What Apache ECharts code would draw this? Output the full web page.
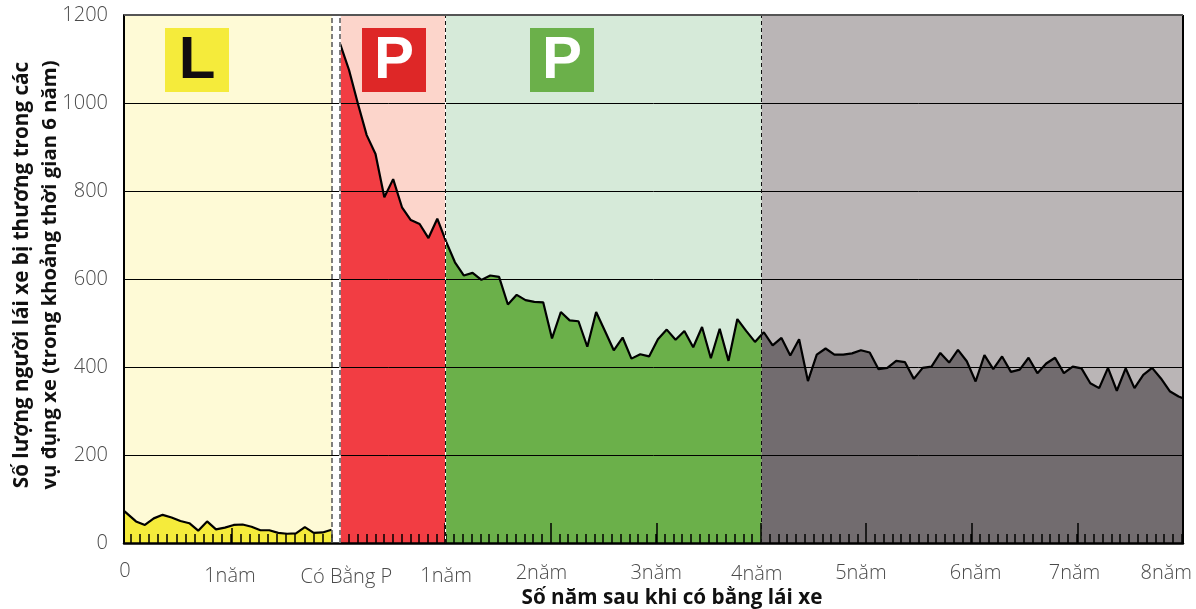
<!DOCTYPE html>
<html>
<head>
<meta charset="utf-8">
<style>
  html, body { margin: 0; padding: 0; background: #fff; }
  #chart { width: 1196px; height: 609px; }
</style>
<script src="https://cdn.jsdelivr.net/npm/echarts@6/dist/echarts.min.js"></script>
</head>
<body>
<div id="chart"></div>
<script>
// values, one per month
const learnerValues = [73, 49, 41, 56, 64, 58, 50, 45, 28, 49, 31, 35, 41, 42, 37, 29, 29, 23, 21, 22, 36, 23, 24, 30];
const redValues = [1134, 1075, 999, 927, 884, 786, 827, 763, 734, 725, 693, 737, 685];
const greenValues = [685, 638, 608, 614, 598, 608, 605, 542, 564, 552, 548, 547, 465, 525, 506, 504, 446, 525, 482, 438, 467, 419, 429, 424, 463, 485, 462, 482, 445, 491, 420, 487, 414, 509, 482, 457];
const greyValues = [479, 449, 466, 426, 463, 368, 428, 442, 428, 428, 431, 438, 433, 395, 398, 414, 411, 373, 398, 401, 432, 410, 439, 413, 367, 427, 395, 424, 389, 394, 421, 386, 408, 421, 386, 401, 397, 363, 352, 398, 346, 397, 352, 382, 398, 374, 345, 333];
const greenEndValue = 474; // where the line crosses the green/grey border
const greyEndValue = 329;  // where the line leaves the plot

// x axis is in months
const xMax = 120;
const learnerEnd = 23.55;
const redStart = 24.5;
const greenStart = 36.45;
const greyStart = 72.26;

const xLabelMonths = [0.1, 12, 25.2, 36.5, 47.3, 60.3, 71.7, 83.5, 96.5, 107.7, 118.1];
const xLabels = ['0', '1năm', 'Có Bằng P', '1năm', '2năm', '3năm', '4năm', '5năm', '6năm', '7năm', '8năm'];
const xLabelRows = ['z', 'c', 'd', 'c', 'a', 'a', 'b', 'a', 'a', 'a', 'a'];

// first learner month is a bit wider than the rest
const learnerData = learnerValues.map((v, i) => [i === 0 ? 0 : 1.36 + (i - 1) * 1.007, v]);
const redData = redValues.map((v, i) => [redStart + i, v]);
const greenData = greenValues.map((v, i) => [redStart + 12 + i, v]);
greenData.push([greyStart, greenEndValue]);
const greyData = greyValues.map((v, i) => [redStart + 48 + i, v]);
greyData.unshift([greyStart, greenEndValue]);
greyData.push([xMax, greyEndValue]);

// ticks: small ones every month, tall ones every year after the P plate
const smallTicks = [];
for (let i = 0; 0.76 + i * 1.035 < learnerEnd; i++) smallTicks.push(0.76 + i * 1.035);
for (let m = redStart + 1; m <= xMax; m += 0.993) smallTicks.push(m);
const tallTicks = [36.4, 48.4, 60.4, 72.2, 84.1, 96.1, 108.1];
const midTicks = [12.25];

const chart = echarts.init(document.getElementById('chart'));

const labelFont = { fontFamily: 'Open Sans', fontWeight: 300, fontSize: 20, color: '#4a4a4a' };
const titleFont = { fontFamily: 'Open Sans', fontWeight: 'bold', color: '#111' };

const tickAxis = (values, length, width) => ({
  type: 'value', min: 0, max: xMax, position: 'bottom', z: 4,
  axisLine: { show: false },
  axisLabel: { show: false },
  splitLine: { show: false },
  axisTick: { show: true, inside: true, length: length, customValues: values, lineStyle: { color: '#000', width: width } }
});

const area = (data, color) => ({
  type: 'line', data: data, symbol: 'none', z: 2,
  lineStyle: { color: '#000', width: 2.2 },
  areaStyle: { color: color, opacity: 1 }
});

const vLine = (x, color, width, type) => ({
  xAxis: x, lineStyle: { color: color, width: width, type: type }
});

const badge = (x, color, letter, letterColor) => ([
  { type: 'rect', z: 10, shape: { x: x, y: 28, width: 64, height: 64 }, style: { fill: color } },
  { type: 'text', z: 11, x: x + 32, y: 61, style: { text: letter, fill: letterColor, font: 'bold 60px "Liberation Sans"', textAlign: 'center', textVerticalAlign: 'middle' } }
]);

chart.setOption({
  animation: false,
  grid: { left: 124, right: 13, top: 15, bottom: 66, containLabel: false, outerBoundsMode: 'none' },
  graphic: [
    ...badge(165, '#F5EB3B', 'L', '#120C10'),
    ...badge(362, '#DE2727', 'P', '#fff'),
    ...badge(530, '#6BB04A', 'P', '#fff')
  ],
  xAxis: [
    {
      type: 'value', min: 0, max: xMax, position: 'bottom', z: 4,
      name: 'Số năm sau khi có bằng lái xe',
      nameLocation: 'middle',
      nameGap: 45,
      nameMoveOverlap: false,
      nameTextStyle: { ...titleFont, fontSize: 20.7, padding: [0, 0, 0, 37] },
      axisLine: { show: true, lineStyle: { color: '#000', width: 2.5 } },
      splitLine: { show: false },
      axisTick: { show: true, inside: true, length: 9, customValues: smallTicks, lineStyle: { color: '#000', width: 1.5 } },
      axisLabel: {
        show: true, margin: 18, customValues: xLabelMonths, hideOverlap: false, showMinLabel: true, showMaxLabel: true,
        formatter: v => {
          const i = xLabelMonths.indexOf(v);
          return '{' + xLabelRows[i] + '|' + xLabels[i] + '}';
        },
        rich: {
          z: { ...labelFont, padding: [0, 0, 0, 0] },
          a: { ...labelFont, padding: [2, 0, 0, 0] },
          b: { ...labelFont, padding: [3, 0, 0, 0] },
          c: { ...labelFont, padding: [5, 0, 0, 0] },
          d: { ...labelFont, padding: [6, 0, 0, 0] }
        }
      }
    },
    tickAxis(tallTicks, 20, 1.5),
    tickAxis(midTicks, 15, 1.5)
  ],
  yAxis: {
    type: 'value', min: 0, max: 1200, interval: 200, z: 3,
    name: '{a|Số lượng người lái xe bị thương trong các}\n{b|vụ đụng xe (trong khoảng thời gian 6 năm)}',
    nameLocation: 'middle',
    nameRotate: 90,
    nameGap: 60,
    nameMoveOverlap: false,
    nameTextStyle: {
      padding: [0, 0, 0, 8],
      rich: {
        a: { ...titleFont, fontSize: 20.7, lineHeight: 28 },
        b: { ...titleFont, fontSize: 20.3, lineHeight: 28 }
      }
    },
    axisLine: { show: true, lineStyle: { color: '#000', width: 2 } },
    axisTick: { show: false },
    axisLabel: { ...labelFont, margin: 16, formatter: v => String(v) },
    splitLine: { show: true, lineStyle: { color: '#000', width: 1 } }
  },
  series: [
    {
      // background bands
      type: 'line', data: [], z: 0, silent: true,
      markArea: {
        silent: true,
        data: [
          [{ xAxis: 0, itemStyle: { color: '#FEFAD6' } }, { xAxis: learnerEnd }],
          [{ xAxis: redStart, itemStyle: { color: '#FCD5CB' } }, { xAxis: greenStart }],
          [{ xAxis: greenStart, itemStyle: { color: '#D6EAD9' } }, { xAxis: greyStart }],
          [{ xAxis: greyStart, itemStyle: { color: '#BAB5B6' } }, { xAxis: xMax }]
        ]
      }
    },
    area(learnerData, '#F5EB3B'),
    area(redData, '#F23D43'),
    area(greenData, '#6BB04A'),
    area(greyData, '#726C6F'),
    {
      // dashed borders and plot frame
      type: 'line', data: [], z: 5, silent: true,
      markLine: {
        silent: true, symbol: 'none', label: { show: false },
        data: [
          vLine(redStart, '#fff', 1.5, 'solid'),
          vLine(greenStart, '#fff', 1, 'solid'),
          vLine(learnerEnd, '#555', 1.5, [5, 3]),
          vLine(redStart, '#555', 1.5, [5, 3]),
          vLine(greenStart, '#111', 1, [4, 3]),
          vLine(greyStart, '#111', 1, [4, 3]),
          vLine(xMax, '#000', 2, 'solid'),
          { yAxis: 1200, lineStyle: { color: '#555', width: 2, type: 'solid' } }
        ]
      }
    }
  ]
});
</script>
</body>
</html>
